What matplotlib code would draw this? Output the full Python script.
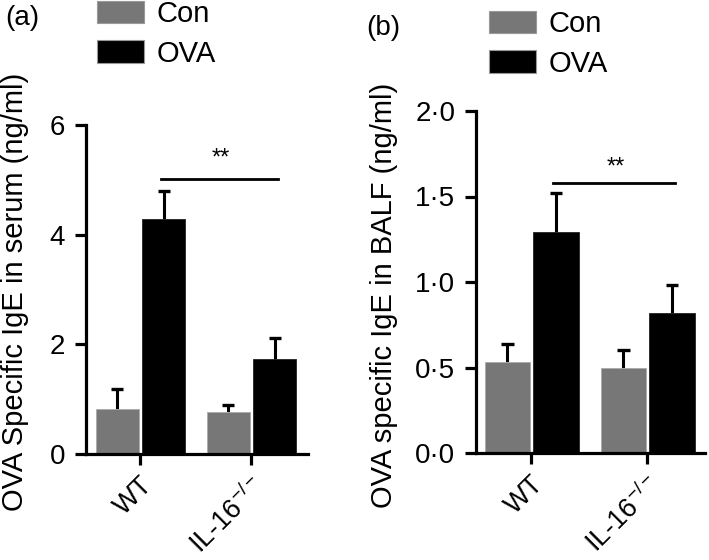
import matplotlib
matplotlib.use("Agg")
import matplotlib.pyplot as plt
from matplotlib.patches import Patch
import numpy as np

plt.rcParams['font.family'] = ['Liberation Sans', 'DejaVu Sans']
plt.rcParams['mathtext.fontset'] = 'custom'
plt.rcParams['mathtext.rm'] = 'Liberation Sans'
plt.rcParams['mathtext.it'] = 'Liberation Sans'

groups = ['WT', 'IL-16$^{-/-}$']
series = ['Con', 'OVA']
colors = ['#777777', '#000000']

serum_mean = {'Con': [0.82, 0.77], 'OVA': [4.29, 1.73]}
serum_err = {'Con': [0.36, 0.12], 'OVA': [0.51, 0.39]}
serum_ticks = [0, 2, 4, 6]
serum_sig = 5.02

balf_mean = {'Con': [0.53, 0.50], 'OVA': [1.29, 0.82]}
balf_err = {'Con': [0.11, 0.10], 'OVA': [0.23, 0.16]}
balf_ticks = [0.0, 0.5, 1.0, 1.5, 2.0]
balf_sig = 1.58

W, H = 709, 560
fig = plt.figure(figsize=(W / 100, H / 100), dpi=100)


def px_ax(x0, x1, ytop, ybot):
    return fig.add_axes([x0 / W, 1 - ybot / H, (x1 - x0) / W, (ybot - ytop) / H])


def draw(ax, mean, err, ticks, fmt, xlim, sig, star_y):
    x = np.arange(len(groups))
    offs = [-0.205, 0.215]
    for s, off, c in zip(series, offs, colors):
        m = np.array(mean[s])
        e = np.array(err[s])
        ax.bar(x + off, m, width=0.39, color=c,
               edgecolor='#aaaaaa' if c != '#000000' else '#222222', linewidth=0.6, zorder=2)
        ax.vlines(x + off, m, m + e, color='black', lw=2.2, zorder=1)
        ax.hlines(m + e, x + off - 0.055, x + off + 0.055, color='black', lw=2.4, zorder=1)
    ax.set_xlim(*xlim)
    ax.set_ylim(ticks[0], ticks[-1])
    ax.set_yticks(ticks)
    ax.set_yticklabels([fmt(t) for t in ticks], fontsize=20)
    ax.set_xticks(x)
    ax.set_xticklabels(groups, fontsize=19.5, rotation=45, ha='right', rotation_mode='anchor')
    for sp in ['top', 'right']:
        ax.spines[sp].set_visible(False)
    for sp in ['left', 'bottom']:
        ax.spines[sp].set_linewidth(2.3)
    ax.tick_params(width=2.3, length=8)
    ax.tick_params(axis='y', pad=7)
    ax.tick_params(axis='x', pad=5)
    ax.plot([0.19, 1.24], [sig, sig], color='black', lw=2.0, clip_on=False)
    ax.text(0.73, star_y, '**', ha='center', va='center', fontsize=17)


ax1 = px_ax(86, 308, 125, 454)
draw(ax1, serum_mean, serum_err, serum_ticks, lambda t: f"{t:d}",
     (-0.486, 1.514), serum_sig, 5.38)
ax2 = px_ax(476, 705, 111, 453)
draw(ax2, balf_mean, balf_err, balf_ticks, lambda t: f"{t:.1f}".replace('.', '·'),
     (-0.474, 1.5), balf_sig, 1.67)

fig.text(15 / W, 1 - 292 / H, 'OVA Specific IgE in serum (ng/ml)', rotation=90,
         ha='center', va='center', fontsize=21)
fig.text(384 / W, 1 - 295 / H, 'OVA specific IgE in BALF (ng/ml)', rotation=90,
         ha='center', va='center', fontsize=21)

fig.text(5 / W, 1 - 18 / H, '(a)', ha='left', va='center', fontsize=20)
fig.text(366 / W, 1 - 28 / H, '(b)', ha='left', va='center', fontsize=20)

handles = [Patch(facecolor=c, edgecolor='#999999', linewidth=0.8) for c in colors]
leg_kw = dict(loc='upper left', frameon=False, fontsize=21, handlelength=1.6,
              handleheight=0.8, handletextpad=0.45, labelspacing=0.4,
              borderpad=0, borderaxespad=0)
fig.legend(handles, series, bbox_to_anchor=(97 / W, 1 - 0 / H), **leg_kw)
fig.legend(handles, series, bbox_to_anchor=(489 / W, 1 - 10 / H), **leg_kw)

fig.savefig('out.png', dpi=100)
